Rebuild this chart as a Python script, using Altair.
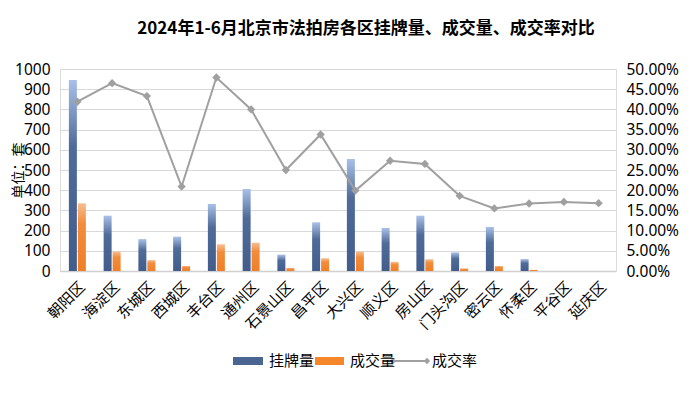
import altair as alt
import pandas as pd

districts = ["朝阳区", "海淀区", "东城区", "西城区", "丰台区", "通州区", "石景山区", "昌平区",
             "大兴区", "顺义区", "房山区", "门头沟区", "密云区", "怀柔区", "平谷区", "延庆区"]
listings = [945, 274, 158, 170, 332, 406, 81, 241, 554, 213, 274, 92, 218, 59, 0, 0]
deals = [335, 96, 54, 25, 132, 140, 15, 63, 96, 45, 58, 13, 25, 6, 0, 0]
rates = [0.419, 0.465, 0.433, 0.209, 0.479, 0.400, 0.250, 0.338,
         0.199, 0.273, 0.265, 0.186, 0.155, 0.167, 0.171, 0.168]
left_ticks = [0, 100, 200, 300, 400, 500, 600, 700, 800, 900, 1000]
right_ticks = [0.0, 0.05, 0.1, 0.15, 0.2, 0.25, 0.3, 0.35, 0.4, 0.45, 0.5]

df = pd.DataFrame({"区": districts, "挂牌量": listings, "成交量": deals, "成交率": rates})

FONT = "Noto Sans CJK SC"
NUMFONT = "Noto Sans"
W, H = 556, 202

blue_grad = alt.LinearGradient(
    gradient="linear", x1=0, y1=0, x2=0, y2=1,
    stops=[alt.GradientStop(offset=0, color="#a9c1e8"),
           alt.GradientStop(offset=0.35, color="#4f6b99"),
           alt.GradientStop(offset=1, color="#425d8b")])
orange_grad = alt.LinearGradient(
    gradient="linear", x1=0, y1=0, x2=0, y2=1,
    stops=[alt.GradientStop(offset=0, color="#f7bd90"),
           alt.GradientStop(offset=0.3, color="#f28c3c"),
           alt.GradientStop(offset=1, color="#f07f27")])

x_axis = alt.Axis(title=None, labelAngle=-45, labelFontSize=15, labelFont=FONT,
                  labelColor="#000000", ticks=False, labelPadding=8,
                  labelOverlap=False,
                  domainColor="#d0d0d0", domainWidth=1.5, grid=False)
x_enc = alt.X("区:N", sort=districts,
              scale=alt.Scale(paddingInner=0, paddingOuter=0), axis=x_axis)

y_left_axis = alt.Axis(title="单位：套", titleFont=FONT, titleFontSize=14, titleFontWeight="normal",
                       titleColor="#000000", titleX=-41.5, titleY=H / 2, titleAngle=-90,
                       titleAlign="center", titleBaseline="middle",
                       values=left_ticks, format="d", labelOverlap=False,
                       labelFontSize=15.5, labelFont=NUMFONT,
                       labelColor="#000000", ticks=False, domain=False, labelPadding=10,
                       grid=True, gridColor="#d9d9d9", gridWidth=1.2)
left_scale = alt.Scale(domain=[0, 1000])

bars_blue = alt.Chart(df).mark_bar(fill=blue_grad, width=8, xOffset=-4.5).encode(
    x=x_enc,
    y=alt.Y("挂牌量:Q", scale=left_scale, axis=y_left_axis),
)
bars_orange = alt.Chart(df).mark_bar(fill=orange_grad, width=8, xOffset=4.5).encode(
    x=x_enc,
    y=alt.Y("成交量:Q", scale=left_scale, axis=y_left_axis),
)

y_right_axis = alt.Axis(orient="right", title=None, format=".2%",
                        values=right_ticks, labelFontSize=15.5,
                        labelOverlap=False,
                        labelFont=NUMFONT, labelColor="#000000", ticks=False,
                        domain=False, labelPadding=10, grid=False)
right_scale = alt.Scale(domain=[0, 0.5])
rate_line = alt.Chart(df).mark_line(color="#a0a0a0", strokeWidth=2).encode(
    x=x_enc, y=alt.Y("成交率:Q", scale=right_scale, axis=y_right_axis))
rate_pts = alt.Chart(df).mark_point(shape="diamond", filled=True, size=70,
                                    color="#a0a0a0", opacity=1).encode(
    x=x_enc, y=alt.Y("成交率:Q", scale=right_scale, axis=y_right_axis))

bars = alt.layer(bars_blue, bars_orange)
lines = alt.layer(rate_line, rate_pts)

# legend
one = pd.DataFrame({"k": [0]})
LY = 292
leg_blue = alt.Chart(one).mark_rect(fill="#4a6592").encode(
    x=alt.value(173), x2=alt.value(203), y=alt.value(LY - 4), y2=alt.value(LY + 4))
leg_orange = alt.Chart(one).mark_rect(fill="#f5862a").encode(
    x=alt.value(255), x2=alt.value(284), y=alt.value(LY - 4), y2=alt.value(LY + 4))
leg_line = alt.Chart(one).mark_rule(color="#a0a0a0", strokeWidth=2).encode(
    x=alt.value(333), x2=alt.value(367), y=alt.value(LY))
leg_d1 = alt.Chart(one).mark_point(shape="diamond", filled=True, size=40, color="#a0a0a0",
                                   opacity=1).encode(x=alt.value(333), y=alt.value(LY))
leg_d2 = alt.Chart(one).mark_point(shape="diamond", filled=True, size=40, color="#a0a0a0",
                                   opacity=1).encode(x=alt.value(367), y=alt.value(LY))
leg_texts = []
for xpos, label in [(209, "挂牌量"), (290, "成交量"), (372, "成交率")]:
    leg_texts.append(alt.Chart(one).mark_text(text=label, align="left", baseline="middle",
                                              font=FONT, fontSize=15, color="#000000").encode(
        x=alt.value(xpos), y=alt.value(LY)))

legend = alt.layer(leg_blue, leg_orange, leg_line, leg_d1, leg_d2, *leg_texts)

chart = alt.layer(bars, lines, legend).resolve_scale(y="independent").properties(
    width=W, height=H,
    title=alt.TitleParams("2024年1-6月北京市法拍房各区挂牌量、成交量、成交率对比",
                          font=FONT, fontSize=17, fontWeight="bold", color="#000000",
                          anchor="middle", dx=28, offset=24),
    autosize=alt.AutoSizeParams(type="none"),
    padding={"left": 52, "top": 61, "right": 73, "bottom": 108},
).configure_view(stroke=None).configure(background="#ffffff")

chart.save("out.html", embed_options={"renderer": "svg", "actions": False})
